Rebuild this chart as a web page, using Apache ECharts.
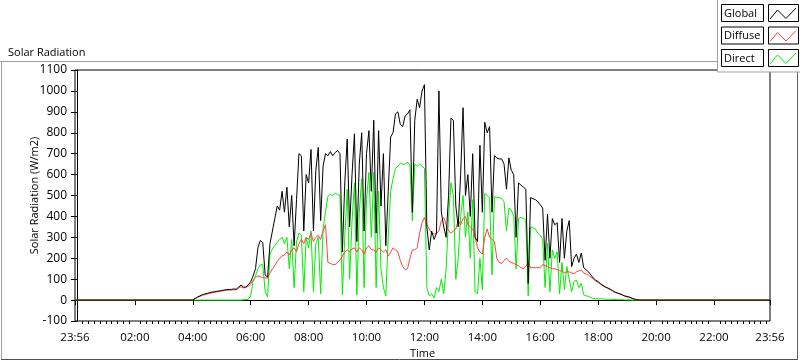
<!DOCTYPE html>
<html><head><meta charset="utf-8">
<script src="https://cdn.jsdelivr.net/npm/echarts@6/dist/echarts.min.js"></script>
<style>html,body{margin:0;padding:0;background:#fff}#c{width:800px;height:361px}</style>
</head><body><div id="c"></div>
<script>
// Sample times: minutes after midnight, every 5 minutes starting at 04:00
const START_MIN = 240, STEP_MIN = 5;
const AXIS_MIN = -4, AXIS_MAX = 1436; // 23:56 .. 23:56

const globalRad = [
0,8,15,20,26,29,32,35,38,40,42,44,46,48,50,51,51,53,52,62,
72,62,63,72,88,115,150,250,285,275,120,110,270,330,390,450,430,520,420,540,
350,500,260,480,700,690,330,600,560,720,330,620,730,380,640,700,690,710,690,705,
715,700,230,560,770,350,600,795,280,650,800,330,700,810,520,860,320,810,450,700,
260,520,780,800,890,900,840,830,880,890,910,420,860,960,920,1000,1030,350,240,330,
290,320,1000,420,350,300,500,870,860,450,350,600,920,500,600,400,700,300,280,740,
420,850,800,830,420,690,680,675,675,650,530,680,620,600,300,560,550,540,530,80,
490,485,480,470,455,440,190,410,200,390,360,370,180,390,200,330,380,160,200,220,
180,225,155,145,135,120,105,95,88,78,70,63,58,52,45,38,34,30,25,20,
17,14,9,5,2,0];
const diffuseRad = [
0,7,13,18,23,26,29,32,35,37,39,41,43,45,47,48,48,50,49,57,
64,58,60,66,76,95,108,116,112,108,106,105,130,148,165,185,200,212,215,230,
215,240,250,230,270,290,270,300,290,320,280,300,310,290,330,360,180,175,170,170,
180,190,210,230,240,230,245,250,230,250,240,220,250,260,240,240,230,250,240,230,
240,210,230,250,240,230,190,160,145,150,200,240,240,250,320,370,395,360,340,320,
315,320,330,380,395,360,330,320,330,340,380,360,390,400,360,350,340,300,250,230,
220,300,340,300,290,280,200,180,175,190,200,185,180,175,170,165,155,150,160,180,
155,155,155,155,155,170,165,160,155,150,150,145,140,140,130,135,135,130,125,135,
140,144,130,125,118,110,100,90,84,75,68,61,56,50,44,37,33,29,24,19,
16,13,8,4,1,0];
const directRad = [
0,0,0,0,0,0,0,0,0,0,0,0,0,0,0,0,0,0,0,0,
0,2,2,4,20,90,115,150,168,170,40,15,220,245,260,275,290,300,270,300,
150,290,60,280,320,310,40,300,250,330,40,270,300,30,340,420,495,505,500,510,
505,500,25,300,530,100,380,560,25,420,580,60,480,610,300,610,60,520,150,60,
20,300,520,580,630,640,655,650,650,660,645,380,650,640,650,640,630,60,20,30,
10,60,40,100,30,150,400,560,500,100,200,400,500,300,420,200,480,40,30,200,
50,510,500,490,120,495,490,490,485,470,330,440,430,400,150,390,395,390,385,20,
350,345,340,320,310,290,60,270,40,240,200,230,30,180,50,160,100,40,90,95,
60,80,25,20,18,12,8,7,6,6,5,5,4,4,3,3,2,2,2,1,
1,1,0,0,0,0];

const xLabelValues = [-4,120,240,360,480,600,720,840,960,1080,1200,1320,1436];
const yMin = -100, yMax = 1100, yStep = 100;

const names = ['Global','Diffuse','Direct'];
const colors = ['#000000','#ff4040','#00ee00'];

function toPairs(arr){
  const out = [[AXIS_MIN, 0]];
  arr.forEach((v,i)=>out.push([START_MIN + i*STEP_MIN, v]));
  out.push([AXIS_MAX, 0]);
  return out;
}
function pad(n){return (n<10?'0':'')+n;}
function fmt(m){ if(m<0) m+=1440; return pad(Math.floor(m/60))+':'+pad(m%60); }

const minorTicks = [];
for (let m = 0; m <= 1428; m += 12) if (m % 120 !== 0) minorTicks.push(m);
const majorTicks = [-4, 0].concat(xLabelValues.slice(1));

const FONT = 'Open Sans';
const chart = echarts.init(document.getElementById('c'), null, {renderer:'canvas'});

const graphics = [
  {type:'line', shape:{x1:0,y1:61.5,x2:797,y2:61.5}, style:{stroke:'#a0a0a0',lineWidth:1}, z:50},
  {type:'line', shape:{x1:1.5,y1:61,x2:1.5,y2:360}, style:{stroke:'#a0a0a0',lineWidth:1}, z:50},
  {type:'line', shape:{x1:1,y1:359.5,x2:798,y2:359.5}, style:{stroke:'#505050',lineWidth:1}, z:50},
  {type:'line', shape:{x1:797.5,y1:61,x2:797.5,y2:360}, style:{stroke:'#606060',lineWidth:1}, z:50},
  {type:'rect', shape:{x:717.5,y:-1,width:84,height:73}, style:{fill:'#fff',stroke:'#a0a0a0',lineWidth:1}, z:60}
];
names.forEach((n,r)=>{
  const y0 = 4.5 + r*22.5;
  graphics.push({type:'rect', shape:{x:721.5,y:y0,width:42,height:17}, style:{fill:'#fff',stroke:'#000',lineWidth:1}, z:61});
  graphics.push({type:'text', x:724, y:y0+9, style:{text:n, fill:'#000', font:'11px "'+FONT+'"', verticalAlign:'middle'}, z:62});
  graphics.push({type:'rect', shape:{x:768.5,y:y0,width:30,height:17}, style:{fill:'#fff',stroke:'#000',lineWidth:1}, z:61});
  graphics.push({type:'polyline', shape:{points:[[770,y0+14.5],[777.5,y0+5.5],[786,y0+14],[796,y0+3.5]]}, style:{stroke:colors[r],lineWidth:1,fill:null}, z:62});
});

chart.setOption({
  animation:false,
  backgroundColor:'#fff',
  textStyle:{fontFamily:FONT},
  title:{text:'Solar Radiation', left:3, top:42, textStyle:{fontSize:11, fontWeight:'normal', color:'#000', fontFamily:FONT}},
  grid:{left:75, right:30, top:70, bottom:40, show:true, borderColor:'#000', borderWidth:1, backgroundColor:'#fff', outerBoundsMode:'none', containLabel:false},
  xAxis:[{
    type:'value', min:AXIS_MIN, max:AXIS_MAX,
    name:'Time', nameLocation:'middle', nameGap:27, nameMoveOverlap:false,
    nameTextStyle:{fontSize:11, color:'#000', fontFamily:FONT},
    axisLine:{show:true, lineStyle:{color:'#000', width:1}},
    axisTick:{show:true, customValues:majorTicks, length:5, lineStyle:{color:'#000'}},
    axisLabel:{customValues:xLabelValues, formatter:v=>fmt(v), fontSize:11.5, color:'#000', margin:11, fontFamily:FONT},
    splitLine:{show:false}
  },{
    type:'value', min:AXIS_MIN, max:AXIS_MAX, position:'bottom',
    axisLine:{show:false},
    axisTick:{show:true, customValues:minorTicks, length:3, lineStyle:{color:'#000'}},
    axisLabel:{show:false},
    splitLine:{show:false}
  }],
  yAxis:{
    type:'value', min:yMin, max:yMax, interval:yStep,
    name:'Solar Radiation (W/m2)', nameLocation:'middle', nameGap:35, nameMoveOverlap:false,
    nameTextStyle:{fontSize:11, color:'#000', fontFamily:FONT},
    axisLine:{show:true, lineStyle:{color:'#000', width:1}},
    axisTick:{show:true, length:6, lineStyle:{color:'#000'}},
    axisLabel:{fontSize:12, color:'#000', margin:8, fontFamily:FONT, formatter:v=>String(v)},
    splitLine:{show:false}
  },
  series:[
    {name:'Direct', type:'line', data:toPairs(directRad), showSymbol:false, lineStyle:{width:1,color:colors[2]}, itemStyle:{color:colors[2]}, z:2},
    {name:'Diffuse', type:'line', data:toPairs(diffuseRad), showSymbol:false, lineStyle:{width:1,color:colors[1]}, itemStyle:{color:colors[1]}, z:3},
    {name:'Global', type:'line', data:toPairs(globalRad), showSymbol:false, lineStyle:{width:1,color:colors[0]}, itemStyle:{color:colors[0]}, z:4}
  ],
  graphic:graphics
});
</script></body></html>
